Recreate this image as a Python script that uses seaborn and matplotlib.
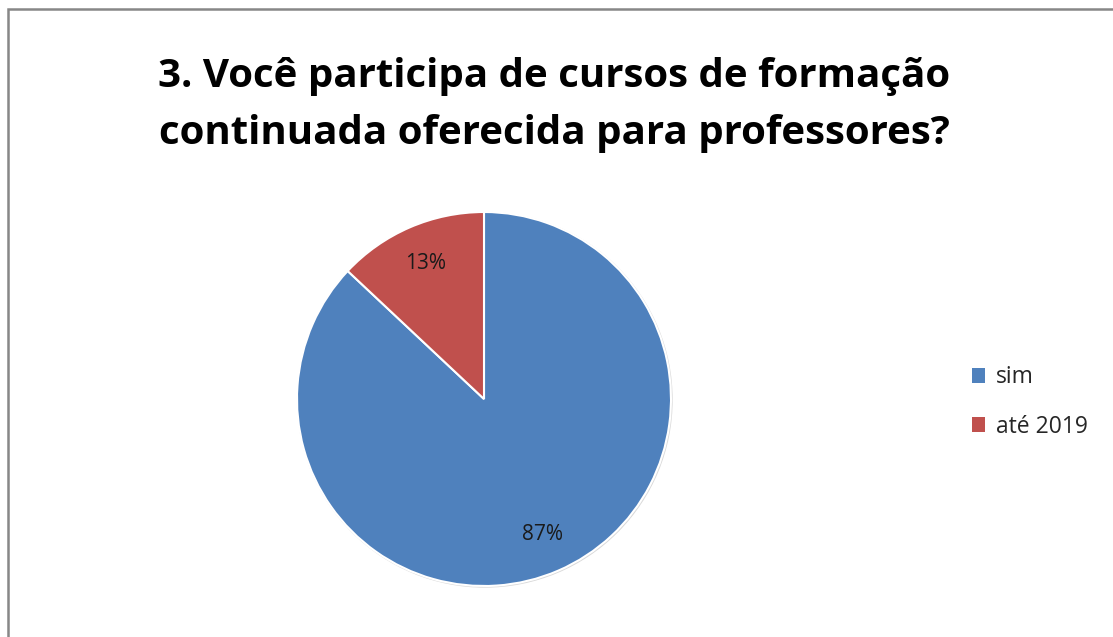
import matplotlib.pyplot as plt
import matplotlib.patches as mpatches
import seaborn as sns

categories = ["sim", "até 2019"]
values = [87, 13]
colors = ["#4F81BD", "#C0504D"]
title = "3. Você participa de cursos de formação\ncontinuada oferecida para professores?"

sns.set_theme(style="white")
plt.rcParams["font.family"] = ["Open Sans", "DejaVu Sans"]

fig = plt.figure(figsize=(11.13, 6.37), dpi=100)
fig.patch.set_facecolor("white")

# chart frame, cut off on the right and bottom like the source
fig.add_artist(mpatches.Rectangle((8 / 1113, -0.1), 1.2, 1 - 9 / 637 + 0.1,
                                  transform=fig.transFigure, fill=False,
                                  edgecolor="#878787", linewidth=1.8))

cx, cy, r = 484, 399, 187
pad = 1.02
half = r * pad
ax = fig.add_axes([(cx - half) / 1113, (637 - cy - half) / 637, 2 * half / 1113, 2 * half / 637])
# faint shadow ring round the pie
ax.add_patch(mpatches.Circle((0.004, -0.004), 1.005, facecolor="#d9d9d9",
                             edgecolor="none", zorder=0))
wedges, texts, autotexts = ax.pie(
    values, colors=colors, startangle=90, counterclock=False,
    autopct="%1.0f%%", pctdistance=0.79,
    wedgeprops=dict(edgecolor="white", linewidth=1.5),
    textprops=dict(fontsize=15, color="#1a1a1a"),
)
ax.set_xlim(-pad, pad)
ax.set_ylim(-pad, pad)
ax.set_aspect("equal")
ax.axis("off")

fig.text(0.498, 1 - 105 / 637, title, ha="center", va="center",
         fontsize=29, fontweight="bold", linespacing=1.58, color="black")

handles = [mpatches.Patch(facecolor=c, edgecolor="none") for c in colors]
fig.legend(handles, categories, loc="center left",
           bbox_to_anchor=(951 / 1113, 1 - 402 / 637), frameon=False,
           fontsize=16.5, handlelength=0.6, handleheight=0.6,
           handletextpad=0.45, labelspacing=1.1)

plt.savefig("out.png", dpi=100, facecolor="white")
plt.close()
